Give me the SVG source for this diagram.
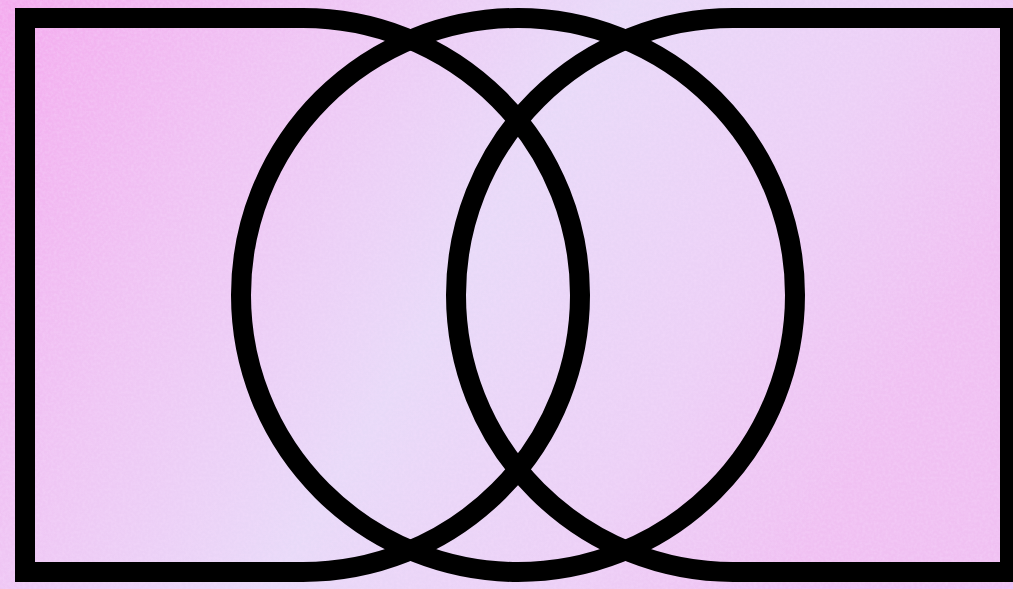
<svg xmlns="http://www.w3.org/2000/svg" width="1013" height="589" viewBox="0 0 1013 589">
  <defs>
    <linearGradient id="bg" x1="0" y1="0" x2="1" y2="0.35">
      <stop offset="0" stop-color="#f4aaee"/>
      <stop offset="0.3" stop-color="#efc6f4"/>
      <stop offset="0.55" stop-color="#e8daf8"/>
      <stop offset="0.8" stop-color="#ecd0f6"/>
      <stop offset="1" stop-color="#f0c0f2"/>
    </linearGradient>
    <filter id="noise" x="0" y="0" width="100%" height="100%">
      <feTurbulence type="fractalNoise" baseFrequency="0.35" numOctaves="2" seed="3"/>
      <feColorMatrix type="matrix" values="0 0 0 0 0.95  0 0 0 0 0.75  0 0 0 0 1  0 0 0 0.9 -0.3"/>
    </filter>
    <style>
      .ln { fill: none; stroke: #000; stroke-width: 20; stroke-linejoin: miter; }
    </style>
  </defs>
  <rect width="1013" height="589" fill="url(#bg)"/>
  <rect width="1013" height="589" filter="url(#noise)" opacity="0.55"/>
  <g id="left-shape">
    <path class="ln" d="M303,18 H25 V572 H303 A277,277 0 0 0 580,295 A277,277 0 0 0 303,18 Z"/>
  </g>
  <g id="right-shape">
    <path class="ln" d="M733,18 H1010 V572 H733 A277,277 0 0 1 456,295 A277,277 0 0 1 733,18 Z"/>
  </g>
  <g id="center-circle">
    <circle class="ln" cx="518" cy="295" r="277"/>
  </g>
</svg>
